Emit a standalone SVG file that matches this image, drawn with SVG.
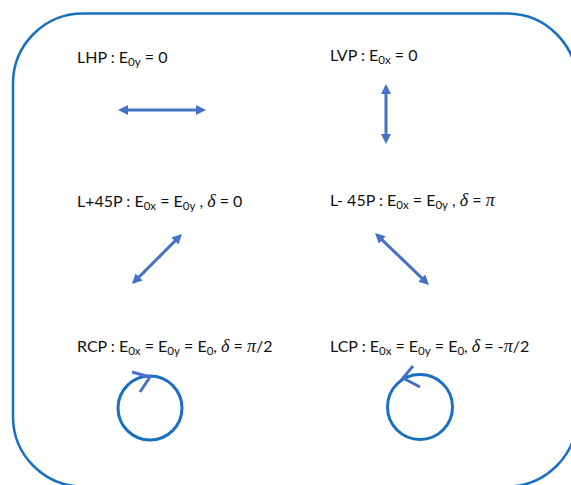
<svg xmlns="http://www.w3.org/2000/svg" width="571" height="485" viewBox="0 0 571 485">
<style>
text{font-family:Lato,"Open Sans","Liberation Sans",sans-serif;font-size:16px;fill:#111}
.s{font-size:11.5px}
.g{font-family:"Liberation Serif","DejaVu Serif",serif;font-style:italic;font-size:18px}
.arr{stroke:#4472C4;stroke-width:3;fill:none;marker-start:url(#ah);marker-end:url(#ah)}
.circ{stroke:#1A70C0;stroke-width:3;fill:none}
.chev{stroke:#4A6FC8;stroke-width:3;fill:none}
</style>
<defs>
<marker id="ah" viewBox="0 0 10 10" markerWidth="10" markerHeight="10" markerUnits="userSpaceOnUse" refX="6" refY="5" orient="auto-start-reverse">
<path d="M0,0 L10,5 L0,10 z" fill="#4472C4"/>
</marker>
</defs>
<rect id="frame" x="13" y="13.5" width="564" height="473" rx="70" ry="70" fill="none" stroke="#1A70C0" stroke-width="2.5"/>
<g id="lhp">
<text x="77" y="63">LHP : E<tspan class="s" dy="3">0y</tspan><tspan dy="-3"> = 0</tspan></text>
<line class="arr" x1="122" y1="110" x2="202" y2="110"/>
</g>
<g id="lvp">
<text x="330" y="61">LVP : E<tspan class="s" dy="3">0x</tspan><tspan dy="-3"> = 0</tspan></text>
<line class="arr" x1="386" y1="88" x2="386" y2="140"/>
</g>
<g id="lp45">
<text x="77" y="207">L+45P : E<tspan class="s" dy="3">0x</tspan><tspan dy="-3"> = E</tspan><tspan class="s" dy="3">0y</tspan><tspan dy="-3"> , </tspan><tspan class="g">δ</tspan><tspan> = 0</tspan></text>
<line class="arr" x1="134.8" y1="281.2" x2="179.2" y2="236.8"/>
</g>
<g id="lm45">
<text x="330" y="206">L- 45P : E<tspan class="s" dy="3">0x</tspan><tspan dy="-3"> = E</tspan><tspan class="s" dy="3">0y</tspan><tspan dy="-3"> , </tspan><tspan class="g">δ</tspan><tspan> = </tspan><tspan class="g">π</tspan></text>
<line class="arr" x1="377.9" y1="235.8" x2="426.1" y2="282.2"/>
</g>
<g id="rcp">
<text x="77" y="352">RCP : E<tspan class="s" dy="3">0x</tspan><tspan dy="-3"> = E</tspan><tspan class="s" dy="3">0y</tspan><tspan dy="-3"> = E</tspan><tspan class="s" dy="3">0</tspan><tspan dy="-3">, </tspan><tspan class="g">δ</tspan><tspan> = </tspan><tspan class="g">π</tspan><tspan>/2</tspan></text>
<circle class="circ" cx="150" cy="408" r="32"/>
<polyline class="chev" points="132,372 150,377 140,392"/>
</g>
<g id="lcp">
<text x="330" y="352">LCP : E<tspan class="s" dy="3">0x</tspan><tspan dy="-3"> = E</tspan><tspan class="s" dy="3">0y</tspan><tspan dy="-3"> = E</tspan><tspan class="s" dy="3">0</tspan><tspan dy="-3">, </tspan><tspan class="g">δ</tspan><tspan> = -</tspan><tspan class="g">π</tspan><tspan>/2</tspan></text>
<circle class="circ" cx="420" cy="407" r="32.5"/>
<polyline class="chev" points="413,366 403,378 420,387"/>
</g>
</svg>
